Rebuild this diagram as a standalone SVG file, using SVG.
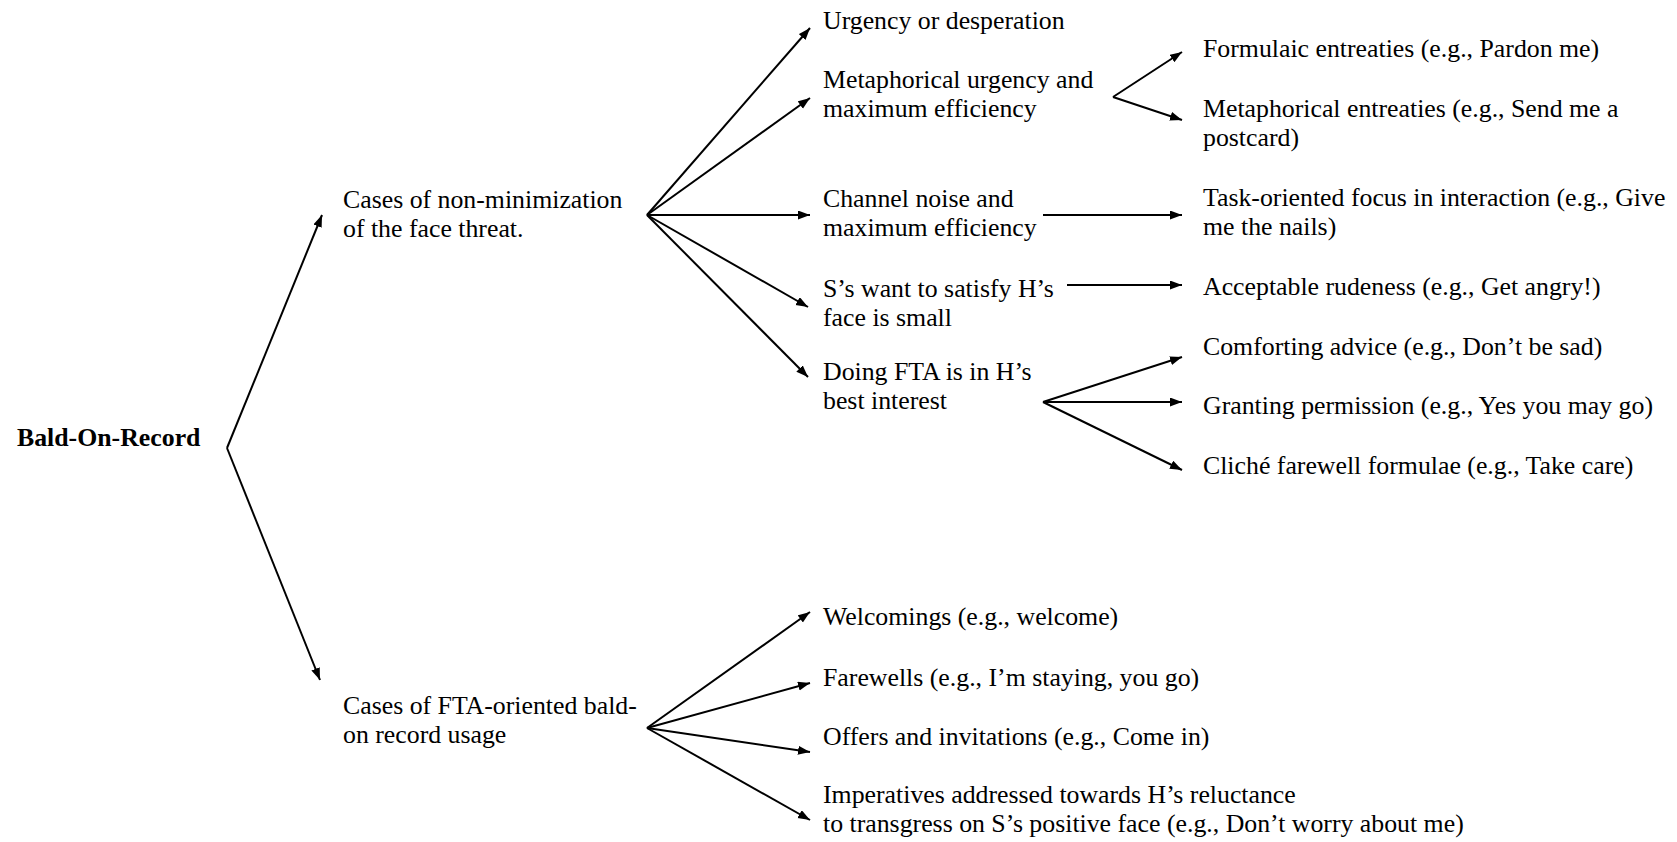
<svg xmlns="http://www.w3.org/2000/svg" width="1677" height="842" viewBox="0 0 1677 842">
<style>
text{font-size:25.8px;fill:#000}
.b{font-weight:bold}
.c line{stroke:#000;stroke-width:2;marker-end:url(#ah)}
</style>
<defs>
<marker id="ah" markerUnits="userSpaceOnUse" markerWidth="13" markerHeight="10" refX="12" refY="4.5" orient="auto">
<path d="M0,0 L12,4.5 L0,9 z" fill="#000"/>
</marker>
</defs>
<rect width="1677" height="842" fill="#fff"/>
<g id="connectors" class="c">
<line x1="227" y1="448" x2="322" y2="215"/>
<line x1="227" y1="448" x2="320" y2="680"/>
<line x1="647" y1="215" x2="810" y2="28"/>
<line x1="647" y1="215" x2="810" y2="98"/>
<line x1="647" y1="215" x2="810" y2="215"/>
<line x1="647" y1="215" x2="808" y2="307"/>
<line x1="647" y1="215" x2="808" y2="377"/>
<line x1="1113" y1="97" x2="1182" y2="52"/>
<line x1="1113" y1="97" x2="1182" y2="120"/>
<line x1="1043" y1="215" x2="1182" y2="215"/>
<line x1="1067" y1="285" x2="1182" y2="285"/>
<line x1="1043" y1="402" x2="1182" y2="357"/>
<line x1="1043" y1="402" x2="1182" y2="402"/>
<line x1="1043" y1="402" x2="1182" y2="470"/>
<line x1="647" y1="728" x2="810" y2="612"/>
<line x1="647" y1="728" x2="810" y2="683"/>
<line x1="647" y1="728" x2="810" y2="752"/>
<line x1="647" y1="728" x2="810" y2="820"/>
</g>
<g font-family="Liberation Serif, Times New Roman, serif">
<g id="root"><text class="b" x="17" y="446">Bald-On-Record</text></g>
<g id="nonmin"><text x="343" y="208">Cases of non-minimization</text><text x="343" y="237">of the face threat.</text></g>
<g id="fta"><text x="343" y="714">Cases of FTA-oriented bald-</text><text x="343" y="743">on record usage</text></g>
<g id="urgency"><text x="823" y="29">Urgency or desperation</text></g>
<g id="metaurg"><text x="823" y="88">Metaphorical urgency and</text><text x="823" y="117">maximum efficiency</text></g>
<g id="channel"><text x="823" y="207">Channel noise and</text><text x="823" y="236">maximum efficiency</text></g>
<g id="swant"><text x="823" y="297">S’s want to satisfy H’s</text><text x="823" y="326">face is small</text></g>
<g id="doing"><text x="823" y="380">Doing FTA is in H’s</text><text x="823" y="409">best interest</text></g>
<g id="formulaic"><text x="1203" y="57">Formulaic entreaties (e.g., Pardon me)</text></g>
<g id="metaent"><text x="1203" y="117">Metaphorical entreaties (e.g., Send me a</text><text x="1203" y="146">postcard)</text></g>
<g id="task"><text x="1203" y="206">Task-oriented focus in interaction (e.g., Give</text><text x="1203" y="235">me the nails)</text></g>
<g id="rude"><text x="1203" y="295">Acceptable rudeness (e.g., Get angry!)</text></g>
<g id="comfort"><text x="1203" y="355">Comforting advice (e.g., Don’t be sad)</text></g>
<g id="grant"><text x="1203" y="414">Granting permission (e.g., Yes you may go)</text></g>
<g id="cliche"><text x="1203" y="474">Cliché farewell formulae (e.g., Take care)</text></g>
<g id="welcome"><text x="823" y="625">Welcomings (e.g., welcome)</text></g>
<g id="farewell"><text x="823" y="686">Farewells (e.g., I’m staying, you go)</text></g>
<g id="offers"><text x="823" y="745">Offers and invitations (e.g., Come in)</text></g>
<g id="imper"><text x="823" y="803">Imperatives addressed towards H’s reluctance</text><text x="823" y="832">to transgress on S’s positive face (e.g., Don’t worry about me)</text></g>
</g>
</svg>
